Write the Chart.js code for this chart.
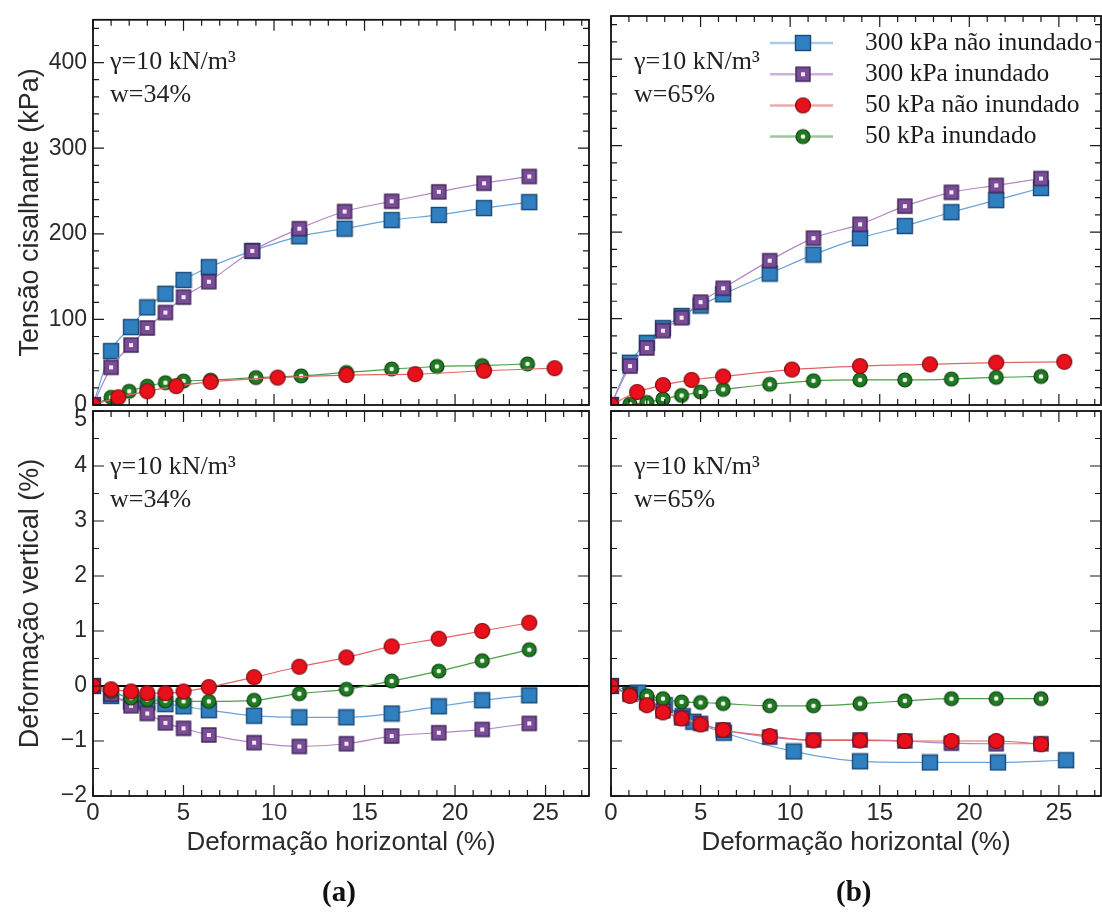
<!DOCTYPE html>
<html>
<head>
<meta charset="utf-8">
<script src="https://cdn.jsdelivr.net/npm/chart.js@4.4.1/dist/chart.umd.min.js"></script>
<style>
  body { margin: 0; background: #fff; }
  #wrap { position: relative; width: 1102px; height: 920px; overflow: hidden; background: #fff; }
  #wrap canvas { position: absolute; left: 0; top: 0; }
  .note { position: absolute; font-family: "Liberation Serif", "Times New Roman", serif; font-size: 26px;
          color: #222; line-height: 33px; white-space: nowrap; }
  .tag { position: absolute; font-family: "Liberation Serif", "Times New Roman", serif; font-weight: bold;
         font-size: 29px; color: #111; }
</style>
</head>
<body>
<div id="wrap">
  <canvas id="tl" width="1102" height="920"></canvas>
  <canvas id="bl" width="1102" height="920"></canvas>
  <canvas id="tr" width="1102" height="920"></canvas>
  <canvas id="br" width="1102" height="920"></canvas>
  <div class="note" style="left:110px;top:44px">γ=10 kN/m³<br>w=34%</div>
  <div class="note" style="left:110px;top:449px">γ=10 kN/m³<br>w=34%</div>
  <div class="note" style="left:634px;top:44px">γ=10 kN/m³<br>w=65%</div>
  <div class="note" style="left:634px;top:449px">γ=10 kN/m³<br>w=65%</div>
  <div class="tag" style="left:322px;top:875px">(a)</div>
  <div class="tag" style="left:836px;top:875px">(b)</div>
</div>
<script>
// series names
var names = ['300 kPa não inundado', '300 kPa inundado', '50 kPa não inundado', '50 kPa inundado'];

// (a) w = 34 % : shear stress (kPa) vs horizontal strain (%)
var aSqX = [0, 1.0, 2.1, 3.0, 4.0, 5.0, 6.4, 8.8, 11.4, 13.9, 16.5, 19.1, 21.6, 24.1];
var aBlueTau = [0, 63, 91, 114, 130, 146, 161, 180, 197, 206, 216, 222, 230, 237];
var aPurpleTau = [0, 44, 70, 90, 108, 126, 144, 180, 206, 226, 238, 249, 259, 267];
var aRedTauX = [0, 1.4, 3.0, 4.6, 6.5, 10.2, 14.0, 17.8, 21.6, 25.5];
var aRedTau = [0, 9, 16, 22, 27, 32, 35, 36, 40, 43];
var aGreenX = [0, 1.0, 2.0, 3.0, 4.0, 5.0, 6.5, 9.0, 11.5, 14.0, 16.5, 19.0, 21.5, 24.0];
var aGreenTau = [0, 9, 16, 22, 26, 28, 29, 32, 34, 38, 42, 45, 46, 48];

// (a) vertical strain (%)
var aVertX = [0, 1.0, 2.1, 3.0, 4.0, 5.0, 6.4, 8.9, 11.4, 14.0, 16.5, 19.1, 21.5, 24.1];
var aBlueV = [0, -0.18, -0.28, -0.30, -0.33, -0.37, -0.44, -0.54, -0.57, -0.57, -0.50, -0.37, -0.26, -0.17];
var aPurpleV = [0, -0.15, -0.36, -0.50, -0.67, -0.77, -0.89, -1.03, -1.10, -1.05, -0.91, -0.85, -0.79, -0.68];
var aRedV = [0, -0.06, -0.10, -0.13, -0.13, -0.10, -0.02, 0.16, 0.35, 0.52, 0.72, 0.86, 1.00, 1.15];
var aGreenV = [0, -0.10, -0.22, -0.25, -0.27, -0.28, -0.28, -0.26, -0.14, -0.06, 0.09, 0.27, 0.46, 0.66];

// (b) w = 65 % : shear stress
var bSqX = [0, 1.06, 2.0, 2.9, 3.94, 5.0, 6.26, 8.86, 11.3, 13.9, 16.4, 19.0, 21.5, 24.0];
var bBlueTau = [0, 49, 72, 89, 103, 115, 128, 152, 174, 193, 207, 223, 237, 251];
var bPurpleTau = [0, 45, 66, 86, 101, 119, 135, 167, 193, 209, 230, 246, 254, 262];
var bRedTauX = [0, 1.46, 2.9, 4.5, 6.26, 10.1, 13.9, 17.8, 21.5, 25.3];
var bRedTau = [0, 15, 23, 29, 33, 41, 45, 47, 49, 50];
var bGreenTau = [0, 1, 3, 7, 11, 15, 18, 24, 28, 29, 29, 30, 32, 33];

// (b) vertical strain
var bBlueVX = [0, 1.5, 3.0, 4.0, 4.6, 6.3, 10.2, 13.9, 17.8, 21.6, 25.4];
var bBlueV = [0, -0.12, -0.35, -0.55, -0.65, -0.85, -1.19, -1.37, -1.39, -1.39, -1.35];
var bPurpleV = [0, -0.15, -0.30, -0.45, -0.58, -0.68, -0.80, -0.93, -0.98, -0.98, -1.00, -1.04, -1.05, -1.05];
var bRedV = [0, -0.18, -0.35, -0.48, -0.59, -0.70, -0.80, -0.91, -0.99, -0.99, -1.00, -1.00, -1.00, -1.06];
var bGreenV = [0, -0.14, -0.18, -0.23, -0.29, -0.30, -0.32, -0.36, -0.36, -0.32, -0.27, -0.23, -0.23, -0.23];

var SANS = "'Liberation Sans', Arial, sans-serif";

function marker(kind) {
  var c = document.createElement('canvas');
  c.width = 18; c.height = 18;
  var g = c.getContext('2d');
  if (kind === 'blue') {
    g.fillStyle = '#2f7fc1'; g.fillRect(1.5, 1.5, 15, 15);
    g.strokeStyle = '#1c4a75'; g.lineWidth = 1.4; g.strokeRect(1.5, 1.5, 15, 15);
  } else if (kind === 'purple') {
    g.fillStyle = '#7a4c98'; g.fillRect(2, 2, 14, 14);
    g.strokeStyle = '#3f2556'; g.lineWidth = 1.4; g.strokeRect(2, 2, 14, 14);
    g.fillStyle = '#f4e8f4'; g.fillRect(7, 7, 4, 4);
  } else if (kind === 'red') {
    g.beginPath(); g.arc(9, 9, 7.5, 0, Math.PI * 2);
    g.fillStyle = '#e8111b'; g.fill();
    g.strokeStyle = '#7c0c10'; g.lineWidth = 1.2; g.stroke();
  } else {
    g.beginPath(); g.arc(9, 9, 7, 0, Math.PI * 2);
    g.fillStyle = '#1f7a22'; g.fill();
    g.strokeStyle = '#0d3d10'; g.lineWidth = 1.2; g.stroke();
    g.beginPath(); g.arc(9, 9, 2.3, 0, Math.PI * 2);
    g.fillStyle = '#eef6ee'; g.fill();
  }
  return c;
}

var marks = { blue: marker('blue'), purple: marker('purple'), red: marker('red'), green: marker('green') };
var lineCol = { blue: '#6ba3d8', purple: '#b387c4', red: '#e26464', green: '#4b9e4b' };
var legendCol = { blue: '#a9cbea', purple: '#cdb0da', red: '#efa9a9', green: '#9cc79c' };
var drawOrder = { blue: 3, purple: 2, green: 1, red: 0 };

function series(name, kind, xs, ys) {
  return {
    label: name,
    kind: kind,
    data: xs.map(function (x, i) { return { x: x, y: ys[i] }; }),
    showLine: true,
    cubicInterpolationMode: 'monotone',
    borderColor: lineCol[kind],
    borderWidth: 1.2,
    pointStyle: marks[kind],
    pointRadius: 8,
    order: drawOrder[kind]
  };
}

function eachTick(min, max, step, major, fn) {
  for (var i = Math.ceil(min / step - 1e-9); i * step <= max + 1e-9; i++) {
    var v = i * step;
    var r = v / major;
    fn(v, Math.abs(r - Math.round(r)) < 1e-6);
  }
}

var framePlugin = {
  id: 'frame',
  beforeDatasetsDraw: function (chart, args, o) {
    if (!o.zero) return;
    var a = chart.chartArea, ctx = chart.ctx;
    var y0 = chart.scales.y.getPixelForValue(0);
    ctx.save();
    ctx.strokeStyle = '#000'; ctx.lineWidth = 1.8;
    ctx.beginPath(); ctx.moveTo(a.left, y0); ctx.lineTo(a.right, y0); ctx.stroke();
    ctx.restore();
  },
  afterDraw: function (chart, args, o) {
    var a = chart.chartArea, ctx = chart.ctx, xs = chart.scales.x, ys = chart.scales.y;
    ctx.save();
    ctx.strokeStyle = '#1a1a1a'; ctx.lineWidth = 1.2;
    ctx.beginPath();
    eachTick(xs.min, xs.max, o.xMinor, o.xMajor, function (v, major) {
      var p = xs.getPixelForValue(v), len = major ? 11 : 6;
      ctx.moveTo(p, a.bottom); ctx.lineTo(p, a.bottom - len);
      ctx.moveTo(p, a.top); ctx.lineTo(p, a.top + len);
    });
    eachTick(ys.min, ys.max, o.yMinor, o.yMajor, function (v, major) {
      var p = ys.getPixelForValue(v), len = major ? 11 : 6;
      ctx.moveTo(a.left, p); ctx.lineTo(a.left + len, p);
      ctx.moveTo(a.right, p); ctx.lineTo(a.right - len, p);
    });
    ctx.stroke();
    ctx.lineWidth = 1.8; ctx.strokeStyle = '#111';
    ctx.strokeRect(a.left, a.top, a.right - a.left, a.bottom - a.top);
    // top tick label of the lower panel sits a little lower so it clears the upper panel's "0"
    if (o.topLabel) {
      ctx.font = '23px ' + SANS;
      ctx.fillStyle = '#2a2a2a';
      ctx.textAlign = 'right';
      ctx.textBaseline = 'middle';
      ctx.fillText(o.topLabel, a.left - 6, ys.getPixelForValue(ys.max) + 9);
    }
    ctx.restore();
  }
};

var legendPlugin = {
  id: 'legendBox',
  afterDraw: function (chart, args, o) {
    if (!o.show) return;
    var ctx = chart.ctx;
    ctx.save();
    ctx.font = '25.5px "Liberation Serif", "Times New Roman", serif';
    ctx.fillStyle = '#1a1a1a';
    ctx.textBaseline = 'middle';
    ['blue', 'purple', 'red', 'green'].forEach(function (kind, i) {
      var ds = chart.data.datasets.filter(function (d) { return d.kind === kind; })[0];
      var y = o.y + i * o.gap;
      ctx.strokeStyle = legendCol[kind]; ctx.lineWidth = 2.5;
      ctx.beginPath(); ctx.moveTo(o.x, y); ctx.lineTo(o.x + 63, y); ctx.stroke();
      ctx.drawImage(ds.pointStyle, o.x + 33 - 9, y - 9);
      ctx.fillText(ds.label, o.x + 95, y);
    });
    ctx.restore();
  }
};

function panel(id, sets, p) {
  var label = function (v) {
    if (p.topLabel && v === p.yMax) return '';
    return String(v).replace('-', '\u2212');
  };
  return new Chart(document.getElementById(id), {
    type: 'scatter',
    data: { datasets: sets },
    options: {
      responsive: false,
      animation: false,
      devicePixelRatio: 1,
      layout: { padding: p.pad, autoPadding: false },
      plugins: {
        legend: { display: false },
        tooltip: { enabled: false },
        frame: { xMinor: 1, xMajor: 5, yMinor: p.yMinor, yMajor: p.yMajor, zero: p.zero,
                 topLabel: p.topLabel ? String(p.yMax) : '' },
        legendBox: { show: !!p.legend, x: 770, y: 43, gap: 31.2 }
      },
      scales: {
        x: {
          type: 'linear', min: 0, max: p.xMax,
          display: p.showX,
          grid: { display: false, drawTicks: false },
          border: { display: false },
          ticks: { stepSize: 5, includeBounds: false, padding: 3, maxRotation: 0, color: '#2a2a2a',
                   font: { family: SANS, size: 24 } },
          title: { display: true, text: 'Deformação horizontal (%)', color: '#2a2a2a',
                   font: { family: SANS, size: 26 }, padding: { top: 0, bottom: 62 } },
          afterFit: function (s) { s.height = p.showX ? 124 : 0; }
        },
        y: {
          type: 'linear', min: p.yMin, max: p.yMax,
          display: p.showY,
          grid: { display: false, drawTicks: false },
          border: { display: false },
          ticks: { stepSize: p.yMajor, includeBounds: false, padding: 6, color: '#2a2a2a',
                   font: { family: SANS, size: 23 }, callback: label },
          title: { display: true, text: p.yTitle, color: '#2a2a2a',
                   font: { family: SANS, size: 27 }, padding: { top: 14, bottom: 0 } },
          afterFit: function (s) { s.width = p.showY ? 93 : 0; }
        }
      }
    },
    plugins: [framePlugin, legendPlugin]
  });
}

panel('tl', [
  series(names[0], 'blue', aSqX, aBlueTau),
  series(names[1], 'purple', aSqX, aPurpleTau),
  series(names[2], 'red', aRedTauX, aRedTau),
  series(names[3], 'green', aGreenX, aGreenTau)
], { pad: { left: 0, top: 16, right: 513, bottom: 515 }, xMax: 27.4, showX: false, showY: true,
     yMin: 0, yMax: 450, yMajor: 100, yMinor: 20, yTitle: 'Tensão cisalhante (kPa)' });

panel('bl', [
  series(names[0], 'blue', aVertX, aBlueV),
  series(names[1], 'purple', aVertX, aPurpleV),
  series(names[2], 'red', aVertX, aRedV),
  series(names[3], 'green', aVertX, aGreenV)
], { pad: { left: 0, top: 411, right: 513, bottom: 0 }, xMax: 27.4, showX: true, showY: true,
     yMin: -2, yMax: 5, yMajor: 1, yMinor: 0.5, zero: true, topLabel: true,
     yTitle: 'Deformação vertical (%)' });

panel('tr', [
  series(names[0], 'blue', bSqX, bBlueTau),
  series(names[1], 'purple', bSqX, bPurpleTau),
  series(names[2], 'red', bRedTauX, bRedTau),
  series(names[3], 'green', bSqX, bGreenTau)
], { pad: { left: 611, top: 16, right: 1, bottom: 515 }, xMax: 27.35, showX: false, showY: false,
     yMin: 0, yMax: 450, yMajor: 100, yMinor: 20, legend: true, yTitle: '' });

panel('br', [
  series(names[0], 'blue', bBlueVX, bBlueV),
  series(names[1], 'purple', bSqX, bPurpleV),
  series(names[2], 'red', bSqX, bRedV),
  series(names[3], 'green', bSqX, bGreenV)
], { pad: { left: 611, top: 411, right: 1, bottom: 0 }, xMax: 27.35, showX: true, showY: false,
     yMin: -2, yMax: 5, yMajor: 1, yMinor: 0.5, zero: true, yTitle: '' });
</script>
</body>
</html>
